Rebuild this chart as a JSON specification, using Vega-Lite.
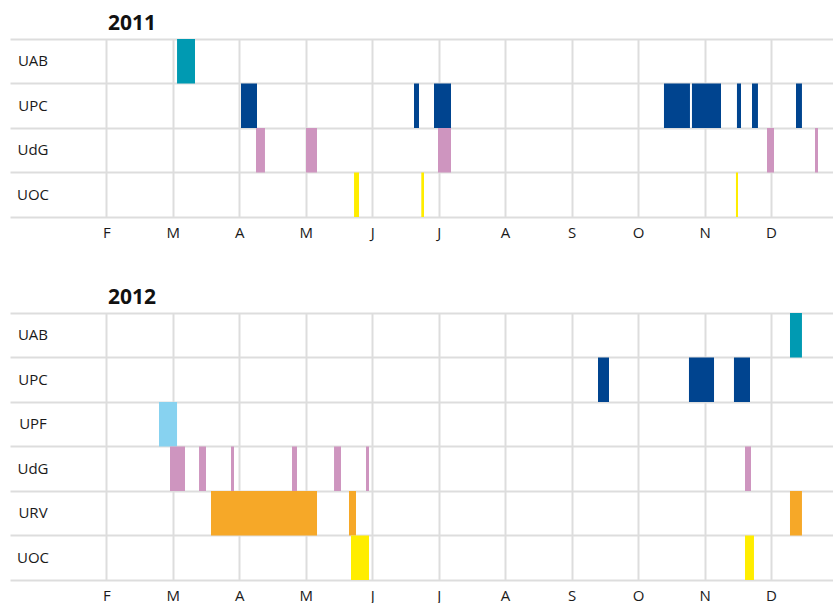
{
  "$schema": "https://vega.github.io/schema/vega-lite/v6.json",
  "padding": {"left": 10, "top": 13, "right": 0, "bottom": 0},
  "background": "white",
  "config": {
    "view": {"stroke": null},
    "font": "Open Sans",
    "concat": {"spacing": 47},
    "title": {"anchor": "start", "fontSize": 21, "fontWeight": "bold", "color": "#111111", "offset": 5, "dx": 98, "font": "Open Sans"},
    "axisX": {"grid": true, "gridColor": "#dddddd", "gridWidth": 2, "ticks": false, "domain": true, "domainColor": "#dddddd", "domainWidth": 2, "labelFontSize": 15, "labelColor": "#1a1a1a", "labelPadding": 8, "title": null, "labelFont": "Open Sans"},
    "axisY": {"grid": true, "bandPosition": 0, "gridColor": "#dddddd", "gridWidth": 2, "ticks": false, "tickSize": 0, "domain": false, "labelAlign": "center", "labelPadding": -22.5, "labelFontSize": 15, "labelColor": "#1a1a1a", "title": null, "labelFont": "Open Sans"}
  },
  "datasets": {
    "y2011": [
      {"uni": "UAB", "start": 3.064, "end": 3.334},
      {"uni": "UPC", "start": 4.026, "end": 4.267},
      {"uni": "UPC", "start": 6.629, "end": 6.704},
      {"uni": "UPC", "start": 6.930, "end": 7.186},
      {"uni": "UPC", "start": 10.390, "end": 10.781},
      {"uni": "UPC", "start": 10.811, "end": 11.248},
      {"uni": "UPC", "start": 11.488, "end": 11.549},
      {"uni": "UPC", "start": 11.714, "end": 11.804},
      {"uni": "UPC", "start": 12.376, "end": 12.466},
      {"uni": "UdG", "start": 4.252, "end": 4.387},
      {"uni": "UdG", "start": 5.004, "end": 5.170},
      {"uni": "UdG", "start": 6.990, "end": 7.186},
      {"uni": "UdG", "start": 11.940, "end": 12.045},
      {"uni": "UdG", "start": 12.662, "end": 12.707},
      {"uni": "UOC", "start": 5.727, "end": 5.802},
      {"uni": "UOC", "start": 6.739, "end": 6.780},
      {"uni": "UOC", "start": 11.473, "end": 11.504}
    ],
    "y2012": [
      {"uni": "UAB", "start": 12.286, "end": 12.466},
      {"uni": "UPC", "start": 9.397, "end": 9.563},
      {"uni": "UPC", "start": 10.766, "end": 11.143},
      {"uni": "UPC", "start": 11.443, "end": 11.684},
      {"uni": "UPF", "start": 2.793, "end": 3.064},
      {"uni": "UdG", "start": 2.958, "end": 3.184},
      {"uni": "UdG", "start": 3.395, "end": 3.500},
      {"uni": "UdG", "start": 3.876, "end": 3.921},
      {"uni": "UdG", "start": 4.794, "end": 4.869},
      {"uni": "UdG", "start": 5.426, "end": 5.531},
      {"uni": "UdG", "start": 5.907, "end": 5.952},
      {"uni": "UdG", "start": 11.609, "end": 11.699},
      {"uni": "URV", "start": 3.575, "end": 5.170},
      {"uni": "URV", "start": 5.651, "end": 5.757},
      {"uni": "URV", "start": 12.286, "end": 12.466},
      {"uni": "UOC", "start": 5.681, "end": 5.952},
      {"uni": "UOC", "start": 11.609, "end": 11.744}
    ]
  },
  "vconcat": [
    {
      "title": {"text": "2011"},
      "width": 823,
      "height": 178,
      "data": {"name": "y2011"},
      "mark": {"type": "bar", "cornerRadius": 0},
      "encoding": {
        "x": {"field": "start", "type": "quantitative", "scale": {"domain": [0.551, 12.933], "nice": false, "zero": false}, "axis": {"values": [2, 3, 4, 5, 6, 7, 8, 9, 10, 11, 12], "labelExpr": "['','J','F','M','A','M','J','J','A','S','O','N','D'][datum.value]"}},
        "x2": {"field": "end"},
        "y": {"field": "uni", "type": "nominal", "sort": ["UAB", "UPC", "UdG", "UOC"], "scale": {"paddingInner": 0, "paddingOuter": 0}},
        "color": {"field": "uni", "type": "nominal", "legend": null, "scale": {"domain": ["UAB", "UPC", "UPF", "UdG", "URV", "UOC"], "range": ["#009ab2", "#00448f", "#87d2f0", "#ce95bf", "#f6a828", "#ffed00"]}}
      }
    },
    {
      "title": {"text": "2012"},
      "width": 823,
      "height": 267,
      "data": {"name": "y2012"},
      "mark": {"type": "bar", "cornerRadius": 0},
      "encoding": {
        "x": {"field": "start", "type": "quantitative", "scale": {"domain": [0.551, 12.933], "nice": false, "zero": false}, "axis": {"values": [2, 3, 4, 5, 6, 7, 8, 9, 10, 11, 12], "labelExpr": "['','J','F','M','A','M','J','J','A','S','O','N','D'][datum.value]"}},
        "x2": {"field": "end"},
        "y": {"field": "uni", "type": "nominal", "sort": ["UAB", "UPC", "UPF", "UdG", "URV", "UOC"], "scale": {"paddingInner": 0, "paddingOuter": 0}},
        "color": {"field": "uni", "type": "nominal", "legend": null, "scale": {"domain": ["UAB", "UPC", "UPF", "UdG", "URV", "UOC"], "range": ["#009ab2", "#00448f", "#87d2f0", "#ce95bf", "#f6a828", "#ffed00"]}}
      }
    }
  ]
}
